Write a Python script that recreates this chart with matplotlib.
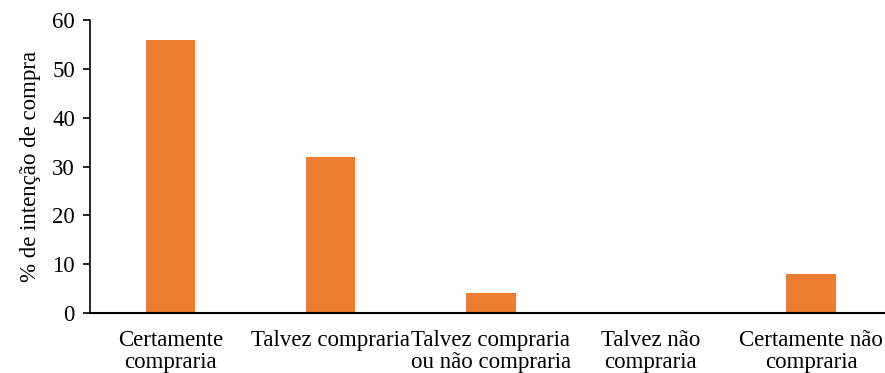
import matplotlib.pyplot as plt

categories = ["Certamente\ncompraria", "Talvez compraria", "Talvez compraria\nou não compraria",
              "Talvez não\ncompraria", "Certamente não\ncompraria"]
values = [56, 32, 4, 0, 8]
yticks = [0, 10, 20, 30, 40, 50, 60]

plt.rcParams['font.family'] = ['Liberation Serif', 'DejaVu Serif']

fig = plt.figure(figsize=(8.85, 3.73), dpi=100)
ax = fig.add_axes([0.102, 0.161, 0.905, 0.785])

x = range(len(categories))
ax.bar(x, values, width=0.31, color="#ED7D31", zorder=2)

ax.set_xlim(-0.5, 4.5)
ax.set_ylim(0, 60)
ax.set_yticks(yticks)
ax.set_xticks(list(x))
ax.set_xticklabels(categories, fontsize=16.5, linespacing=1.1)
ax.tick_params(axis='x', length=0, pad=12)
ax.tick_params(axis='y', labelsize=16.5, length=5, width=1.2, direction='out', pad=6)
ax.set_ylabel("% de intenção de compra", fontsize=16.5, labelpad=8)

for side in ["top", "right"]:
    ax.spines[side].set_visible(False)
ax.spines["left"].set_linewidth(1.2)
ax.spines["bottom"].set_linewidth(1.5)

fig.savefig("out.png", dpi=100)
